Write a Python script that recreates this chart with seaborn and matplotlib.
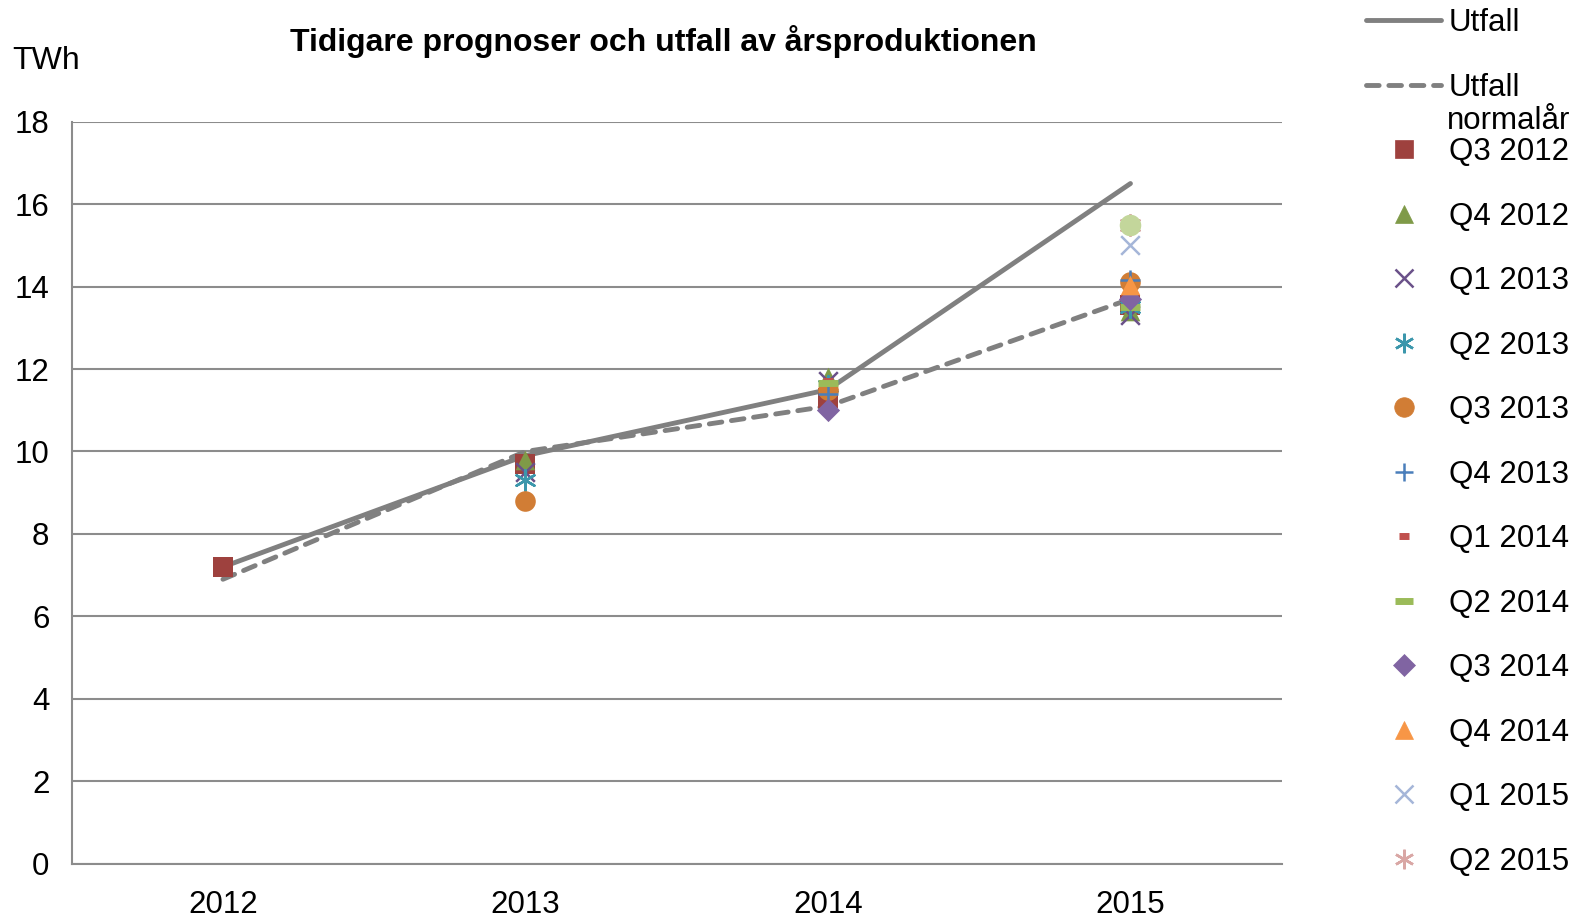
import numpy as np
import pandas as pd
import matplotlib
matplotlib.use('Agg')
import matplotlib.pyplot as plt
import seaborn as sns
from matplotlib.lines import Line2D

# --- data ---
years = ["2012", "2013", "2014", "2015"]
utfall = [7.2, 9.9, 11.5, 16.5]
utfall_normal = [6.9, 10.0, 11.1, 13.7]

forecast_names = ["Q3 2012", "Q4 2012", "Q1 2013", "Q2 2013", "Q3 2013", "Q4 2013",
                  "Q1 2014", "Q2 2014", "Q3 2014", "Q4 2014", "Q1 2015", "Q2 2015", "Q3 2015"]
nan = np.nan
q3_2012 = [7.2, 9.7, 11.3, 13.55]
q4_2012 = [nan, 9.8, 11.8, 13.4]
q1_2013 = [nan, 9.5, 11.7, 13.3]
q2_2013 = [nan, 9.3, 11.6, 13.5]
q3_2013 = [nan, 8.8, 11.5, 14.1]
q4_2013 = [nan, nan, 11.4, 14.15]
q1_2014 = [nan, nan, 11.7, 13.6]
q2_2014 = [nan, nan, 11.65, 13.5]
q3_2014 = [nan, nan, 11.0, 13.7]
q4_2014 = [nan, nan, nan, 14.05]
q1_2015 = [nan, nan, nan, 15.0]
q2_2015 = [nan, nan, nan, 15.5]
q3_2015 = [nan, nan, nan, 15.5]
forecasts = [q3_2012, q4_2012, q1_2013, q2_2013, q3_2013, q4_2013,
             q1_2014, q2_2014, q3_2014, q4_2014, q1_2015, q2_2015, q3_2015]

# style per forecast series: (color, marker, size, linewidth)
asterisk = (6, 2, 0)
styles = [
    ("#9E413E", "s", 200, 0),
    ("#7F9A48", "^", 200, 0),
    ("#6A5189", "x", 180, 1.8),
    ("#3C97AC", asterisk, 220, 1.8),
    ("#D17D35", "o", 220, 0),
    ("#4A7EBB", "+", 200, 1.8),
    ("#C0504D", "_", 60, 5),
    ("#9BBB59", "_", 200, 5),
    ("#8064A2", "D", 140, 0),
    ("#F79646", "^", 200, 0),
    ("#A5B6D8", "x", 180, 1.8),
    ("#D9A7A5", asterisk, 220, 1.8),
    ("#C3D69B", "o", 240, 0),
]

sns.set_style("white")
plt.rcParams['font.family'] = ['Liberation Sans', 'DejaVu Sans']
plt.rcParams['text.color'] = 'black'
plt.rcParams['xtick.labelcolor'] = 'black'
plt.rcParams['ytick.labelcolor'] = 'black'

fig = plt.figure(figsize=(15.85, 9.18), dpi=100)
# plot area: x 71.7..1281.7 px, y 121.7..863.7 px
ax = fig.add_axes([71.7 / 1585, (918 - 863.7) / 918, 1210 / 1585, 742 / 918])

xpos = np.arange(len(years))
grid_c = "#8C8C8C"
line_c = "#808080"
dash = (0, (2.6, 2.0))

for i, (vals, (col, mk, sz, lw)) in enumerate(zip(forecasts, styles)):
    df = pd.DataFrame({"x": xpos, "y": vals}).dropna()
    sns.scatterplot(data=df, x="x", y="y", ax=ax, color=col, marker=mk, s=sz,
                    linewidth=lw, edgecolor=col if lw == 0 else None, zorder=3 + i * 0.01,
                    legend=False)

line_df = pd.DataFrame({"x": xpos, "Utfall": utfall, "Normal": utfall_normal})
sns.lineplot(data=line_df, x="x", y="Utfall", ax=ax, color=line_c, linewidth=3.5, zorder=2)
sns.lineplot(data=line_df, x="x", y="Normal", ax=ax, color=line_c, linewidth=3.5,
             linestyle=dash, dash_capstyle="round", zorder=2)

ax.set_xlim(-0.5, 3.5)
ax.set_ylim(0, 18)
ax.set_yticks(np.arange(0, 19, 2))
ax.set_xticks(xpos)
ax.set_xticklabels(years)
ax.set_xticks(np.arange(-0.5, 3.6, 1), minor=True)
ax.set_xlabel("")
ax.set_ylabel("")
ax.yaxis.grid(True, color=grid_c, linewidth=1.5)
ax.set_axisbelow(True)
ax.tick_params(axis="x", which="major", length=0, labelsize=22.5, pad=19)
ax.tick_params(axis="x", which="minor", length=8, width=1.5, color=grid_c, direction="out")
ax.tick_params(axis="y", length=8, width=1.5, color=grid_c, direction="out", labelsize=22.5, pad=8)
for s in ["top", "right"]:
    ax.spines[s].set_visible(False)
for s in ["left", "bottom"]:
    ax.spines[s].set_color(grid_c)
    ax.spines[s].set_linewidth(1.5)

fig.text(663 / 1585, 1 - 41.5 / 918, "Tidigare prognoser och utfall av årsproduktionen",
         ha="center", va="center", fontsize=23, fontweight="bold")
fig.text(12 / 1585, 1 - 69 / 918, "TWh", ha="left", va="baseline", fontsize=23)

# legend
handles = [Line2D([], [], color=line_c, linewidth=3.5, solid_capstyle="round"),
           Line2D([], [], color=line_c, linewidth=3.5, linestyle=dash,
                  dash_capstyle="round")]
labels = ["Utfall", "Utfall"]
for name, (col, mk, sz, lw) in zip(forecast_names[:12], styles[:12]):
    handles.append(Line2D([], [], linestyle="none", marker=mk, color=col,
                          markersize=np.sqrt(sz) * 0.95, markeredgewidth=lw if lw else 0.5,
                          markeredgecolor=col))
    labels.append(name)
leg = fig.legend(handles, labels, loc="upper left", bbox_to_anchor=(1366 / 1585, 1 - 8 / 918),
                 frameon=False, fontsize=22.5, labelspacing=1.105, handlelength=2.4,
                 handletextpad=0.25, borderaxespad=0, borderpad=0)
fig.text(1447 / 1585, 1 - 121 / 918, "normalår", ha="left", va="center", fontsize=22.5)

fig.savefig("out.png", dpi=100)
